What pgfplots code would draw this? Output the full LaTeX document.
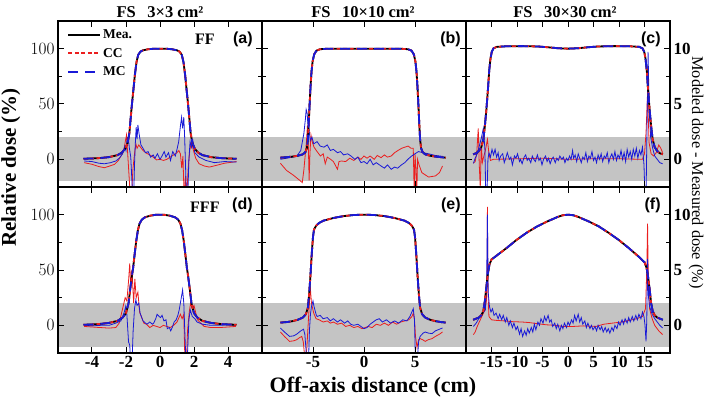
\documentclass[border=0pt]{standalone}
\usepackage{fontspec}
\setmainfont{Liberation Serif}
\setsansfont{Liberation Sans}
\usepackage{pgfplots}
\usepackage{pgfplotstable}
\pgfplotsset{compat=1.18}
\usepgfplotslibrary{groupplots}
\usetikzlibrary{calc}

\definecolor{bandgray}{RGB}{196,196,196}
\definecolor{cc}{RGB}{235,30,30}
\definecolor{mc}{RGB}{25,25,215}

\tikzset{
  plab/.style={font=\fontsize{16}{16}\selectfont\sffamily\bfseries, inner sep=0pt, anchor=north east},
  flab/.style={font=\fontsize{16}{16}\selectfont\bfseries, inner sep=0pt},
}
\pgfplotsset{
  panel/.style={
    width=204pt, height=166pt, scale only axis,
    ymin=-25, ymax=125, ytick={0,50,100}, minor ytick={25,75},
    xtick pos=both, ytick pos=both,
    tick align=inside, major tick length=6pt, minor tick length=4pt,
    every tick/.style={black, line width=1pt},
    axis line style={line width=1.3pt},
    axis on top,
    tick label style={font=\fontsize{17}{17}\selectfont\bfseries},
  },
  mea/.style={black, line width=1.8pt, no markers},
  ccp/.style={cc, line width=1.8pt, dash pattern=on 4pt off 2.5pt, no markers},
  mcp/.style={mc, line width=1.8pt, dash pattern=on 10pt off 7pt, no markers},
  ccd/.style={cc, line width=0.8pt, no markers, forget plot, y filter/.code={\pgfmathparse{10*##1}}},
  mcd/.style={mc, line width=0.8pt, no markers, forget plot, y filter/.code={\pgfmathparse{10*##1}}},
}

% profiles (relative dose, %)
\pgfplotstableread{
x y
-4.5 0.5
-4.0 0.8
-3.5 1.2
-3.0 2.0
-2.5 3.8
-2.25 6
-2.05 9.5
-1.9 15
-1.8 24
-1.72 38
-1.65 50
-1.57 62
-1.48 76
-1.38 88
-1.28 94.5
-1.15 97.3
-1.0 98.5
-0.7 99.5
-0.3 100
0 100
0.3 100
0.7 99.5
1.0 98.5
1.15 97.3
1.28 94.5
1.38 88
1.48 76
1.57 62
1.65 50
1.72 38
1.8 24
1.9 15
2.05 9.5
2.25 6
2.5 3.8
3.0 2.0
3.5 1.2
4.0 0.8
4.5 0.5
}\profA

\pgfplotstableread{
x y
-8.2 1.5
-7.5 2.0
-7.0 2.5
-6.5 3.2
-6.0 4.5
-5.75 6.5
-5.6 10
-5.5 18
-5.42 32
-5.33 50
-5.24 66
-5.14 80
-5.03 89
-4.88 95
-4.65 98.3
-4.3 99.5
-3.5 100
0 100
3.5 100
4.3 99.5
4.65 98.3
4.88 95
5.03 89
5.14 80
5.24 66
5.33 50
5.42 32
5.5 18
5.6 10
5.75 6.5
6.0 4.5
6.5 3.2
7.0 2.5
7.5 2.0
8.0 1.5
}\profB

\pgfplotstableread{
x y
-18.6 4.5
-18.0 5.5
-17.5 7.5
-17.0 11
-16.6 18
-16.3 30
-16.0 45
-15.7 63
-15.45 80
-15.2 91
-14.95 97
-14.6 100.3
-14.0 101.6
-12.0 102.2
-9.0 102.3
-6.0 102.0
-4.0 101.3
-2.0 100.4
0 100.0
2.0 100.4
4.0 101.3
6.0 102.0
9.0 102.3
12.0 102.2
14.0 101.6
14.6 100.3
14.95 97
15.2 91
15.45 80
15.7 63
16.0 45
16.3 30
16.6 18
17.0 11
17.5 7.5
18.0 5.5
18.6 4.5
}\profC

\pgfplotstableread{
x y
-4.5 0.5
-4.0 0.8
-3.5 1.3
-3.0 2.2
-2.5 4
-2.2 7
-2.0 11
-1.85 20
-1.75 33
-1.65 45
-1.58 52
-1.5 63
-1.4 76
-1.3 86
-1.2 92
-1.07 95.5
-0.9 97.5
-0.6 99
-0.3 99.8
0 100
0.3 99.8
0.6 99
0.9 97.5
1.07 95.5
1.2 92
1.3 86
1.4 76
1.5 63
1.58 52
1.65 45
1.75 33
1.85 20
2.0 11
2.2 7
2.5 4
3.0 2.2
3.5 1.3
4.0 0.8
4.5 0.5
}\profD

\pgfplotstableread{
x y
-8.2 2.5
-7.5 3.0
-7.0 3.8
-6.5 5.0
-6.0 7.0
-5.7 10
-5.5 16
-5.38 28
-5.25 45
-5.12 65
-5.0 80
-4.9 86.5
-4.7 90
-4.4 92.5
-4.0 94.5
-3.0 97
-2.0 98.7
-1.0 99.7
0 100
1.0 99.7
2.0 98.7
3.0 97
4.0 94.5
4.4 92.5
4.7 90
4.9 86.5
5.0 80
5.12 65
5.25 45
5.38 28
5.5 16
5.7 10
6.0 7.0
6.5 5.0
7.0 3.8
7.5 3.0
8.0 2.5
}\profE

\pgfplotstableread{
x y
-18.6 5
-17.5 7
-17.0 9
-16.6 13
-16.3 22
-16.0 35
-15.7 47
-15.4 55
-15.0 59.5
-14.0 63
-12.0 70
-10.0 77.5
-8.0 84
-6.0 89.5
-4.0 94
-2.0 98
-1.0 99.5
0 100
1.0 99.5
2.0 98
4.0 94
6.0 89.5
8.0 83.5
10.0 77
12.0 69.5
14.0 61.5
15.0 57
15.4 52
15.7 44
16.0 33
16.3 20
16.6 13
17.0 9
17.5 7
18.6 5
}\profF

\begin{document}
\begin{tikzpicture}
\begin{groupplot}[group style={group size=3 by 2, horizontal sep=0pt, vertical sep=0pt}, panel]

% ---- (a) FF 3x3
\nextgroupplot[xmin=-6, xmax=6, xtick={-4,-2,0,2,4}, xticklabels={},
  legend style={at={(0.045,0.96)}, anchor=north west, draw=none, fill=none,
    font=\fontsize{13.5}{13.5}\selectfont\bfseries, row sep=4pt, inner sep=0pt, cells={anchor=west}},
  legend image code/.code={\draw[#1] (0pt,0pt) -- (32pt,0pt);}]
\coordinate (tl) at (rel axis cs:0,1);
\fill[bandgray] (axis cs:-30,-20) rectangle (axis cs:30,20);
\addplot[ccd] coordinates {(-4.46,-0.3) (-4.0,-0.45) (-3.6,-0.65) (-3.27,-0.76) (-2.95,-0.6) (-2.67,-0.45) (-2.45,-0.1) (-2.27,0.36) (-2.12,0.9) (-2.02,1.8) (-1.97,2.2) (-1.9,0.5) (-1.82,-1.5) (-1.74,-3.5) (-1.67,-3.5) (-1.6,-1.0) (-1.5,0.5) (-1.42,1.4) (-1.35,1.0) (-1.25,1.3) (-1.15,1.1) (-1.0,0.8) (-0.8,0.55) (-0.6,0.4) (-0.4,0.2) (-0.2,-0.05) (0,0.0) (0.2,-0.1) (0.4,0.0) (0.6,0.2) (0.8,0.4) (1.0,0.6) (1.11,0.8) (1.2,0.5) (1.28,-0.8) (1.35,0.3) (1.42,-3.5) (1.5,-1.5) (1.57,-3.5) (1.65,-1.0) (1.75,0.8) (1.85,1.6) (1.95,0.9) (2.1,0.1) (2.3,-0.4) (2.6,-0.6) (2.9,-0.7) (3.3,-0.55) (3.8,-0.35) (4.5,-0.2)};
\addplot[mcd] coordinates {(-4.46,-0.15) (-4.0,-0.2) (-3.6,-0.35) (-3.27,-0.4) (-2.9,-0.3) (-2.6,-0.15) (-2.4,0.1) (-2.2,0.5) (-2.07,1.2) (-2.0,0.8) (-1.93,1.9) (-1.87,2.0) (-1.8,1.0) (-1.72,0.2) (-1.65,-2.0) (-1.6,-3.5) (-1.55,-3.5) (-1.5,-0.5) (-1.45,1.5) (-1.4,2.9) (-1.35,1.8) (-1.3,3.1) (-1.22,2.2) (-1.12,1.3) (-1.0,1.0) (-0.85,0.6) (-0.7,0.7) (-0.55,0.2) (-0.4,0.4) (-0.3,0.1) (-0.15,0.5) (0,0.0) (0.12,0.3) (0.25,0.7) (0.35,0.2) (0.5,0.6) (0.62,-0.1) (0.75,0.7) (0.9,0.3) (1.0,0.9) (1.1,1.6) (1.2,3.0) (1.27,3.8) (1.33,2.8) (1.4,3.8) (1.45,2.0) (1.52,-1.5) (1.57,-3.5) (1.63,-3.5) (1.7,0.0) (1.77,1.6) (1.85,1.1) (1.93,1.7) (2.05,0.6) (2.3,0.2) (2.7,-0.1) (3.2,-0.3) (3.8,-0.2) (4.5,-0.25)};
\addplot[mea] table {\profA}; \addlegendentry{Mea.}
\addplot[ccp] table {\profA}; \addlegendentry{CC}
\addplot[mcp] table {\profA}; \addlegendentry{MC}
\node[flab] at (rel axis cs:0.72,0.889) {FF};
\node[plab] at (rel axis cs:0.955,0.935) {(a)};

% ---- (b) FF 10x10
\nextgroupplot[xmin=-10, xmax=10, xtick={-5,0,5}, xticklabels={}, yticklabels={}]
\fill[bandgray] (axis cs:-30,-20) rectangle (axis cs:30,20);
\addplot[ccd] coordinates {(-8.2,-0.35) (-7.6,-1.0) (-6.9,-1.45) (-6.3,-1.9) (-6.05,-2.1) (-5.9,-1.0) (-5.77,0.3) (-5.65,1.5) (-5.55,3.0) (-5.45,1.0) (-5.38,-1.9) (-5.3,0.5) (-5.2,2.2) (-5.05,1.5) (-4.9,1.1) (-4.6,0.7) (-4.27,0.3) (-4.0,0.5) (-3.8,-0.4) (-3.6,0.2) (-3.27,0.0) (-3.0,-0.2) (-2.6,-0.9) (-2.45,-0.2) (-2.2,-0.15) (-1.8,-0.2) (-1.4,0.1) (-1.0,-0.1) (-0.6,0.2) (-0.3,0.0) (0,0.3) (0.3,0.1) (0.6,0.3) (1.0,0.0) (1.3,0.35) (1.67,0.15) (2.0,0.4) (2.3,0.2) (2.67,0.3) (3.0,0.6) (3.33,0.8) (3.7,1.0) (4.0,1.1) (4.33,1.2) (4.6,1.0) (4.83,1.0) (4.93,-3.5) (5.0,0.5) (5.1,-1.0) (5.17,-3.5) (5.25,0.0) (5.4,-0.5) (5.67,-1.2) (6.0,-1.4) (6.33,-1.6) (7.0,-1.5) (7.4,-1.2) (7.7,-0.6)};
\addplot[mcd] coordinates {(-8.2,0.0) (-7.6,0.1) (-7.0,0.2) (-6.6,0.27) (-6.2,0.8) (-5.9,2.3) (-5.75,3.6) (-5.67,4.5) (-5.58,4.2) (-5.5,3.2) (-5.4,2.8) (-5.27,1.7) (-5.1,2.0) (-4.93,1.4) (-4.6,1.6) (-4.3,1.2) (-3.93,1.1) (-3.6,1.3) (-3.3,0.8) (-3.0,0.9) (-2.6,0.6) (-2.3,0.7) (-2.0,0.4) (-1.6,0.5) (-1.27,0.3) (-0.9,0.0) (-0.6,0.2) (-0.3,-0.3) (0,-0.2) (0.3,-0.4) (0.6,0.0) (0.9,-0.5) (1.2,-0.3) (1.67,-0.6) (2.0,-0.8) (2.3,-0.5) (2.67,-0.9) (3.0,-0.7) (3.3,-0.8) (3.67,-0.5) (4.0,-0.3) (4.3,0.0) (4.67,0.3) (5.0,0.5) (5.33,0.7) (5.8,0.6) (6.33,0.5) (7.0,0.35) (7.7,0.27)};
\addplot[mea] table {\profB};
\addplot[ccp] table {\profB};
\addplot[mcp] table {\profB};
\node[plab] at (rel axis cs:0.975,0.935) {(b)};

% ---- (c) FF 30x30
\nextgroupplot[xmin=-20, xmax=20, xtick={-15,-10,-5,0,5,10,15}, xticklabels={},
  yticklabel pos=right, yticklabels={0,5,10}]
\fill[bandgray] (axis cs:-30,-20) rectangle (axis cs:30,20);
\addplot[ccd] coordinates {(-18.55,-0.35) (-18.2,-0.2) (-17.9,0.5) (-17.6,2.8) (-17.4,-0.5) (-17.2,-2.6) (-17.0,1.5) (-16.8,-0.3) (-16.5,0.3) (-16.2,0.8) (-15.8,1.8) (-15.5,0.5) (-15.2,-0.1) (-14.65,0.0) (-10,0.05) (-5,0.1) (0,0.0) (5,0.05) (10,0.05) (14.6,0.0) (15.0,0.5) (15.3,2.4) (15.6,6.0) (15.9,1.5) (16.3,0.5) (16.8,0.3) (17.3,0.6) (17.8,1.3) (18.2,1.0) (18.55,0.6)};
\addplot[mcd] coordinates {(-18.55,-0.36) (-18.2,0.1) (-17.8,0.5) (-17.4,1.2) (-17.0,1.9) (-16.6,2.8) (-16.3,1.0) (-16.1,-3.5) (-15.9,-3.5) (-15.7,0.0) (-15.5,0.6) (-15.2,0.2) (-14.9,0.9) (-14.6,0.4) (-14.3,0.9) (-14.0,0.2) (-13.7,0.6) (-13.5,-0.1) (-13.2,0.3) (-12.8,0.5) (-12.5,-0.3) (-12.2,0.1) (-11.9,0.6) (-11.5,0.0) (-11.2,0.2) (-10.9,-0.5) (-10.5,0.3) (-10.2,0.1) (-9.9,0.5) (-9.5,-0.2) (-9.3,0.0) (-9.0,-0.4) (-8.6,0.2) (-8.3,0.4) (-8.0,-0.1) (-7.7,0.1) (-7.3,-0.3) (-7.0,0.3) (-6.7,0.0) (-6.4,-0.2) (-6.0,0.4) (-5.7,-0.1) (-5.4,0.1) (-5.1,-0.5) (-4.8,0.0) (-4.4,0.3) (-4.1,-0.2) (-3.8,0.1) (-3.5,-0.4) (-3.2,0.0) (-2.9,0.2) (-2.5,-0.3) (-2.2,0.1) (-1.9,-0.1) (-1.6,0.3) (-1.2,0.0) (-0.9,0.2) (-0.6,-0.3) (-0.3,0.1) (0.0,-0.1) (0.3,0.3) (0.6,0.0) (0.9,0.8) (1.1,0.1) (1.4,0.4) (1.7,-0.2) (2.0,0.5) (2.3,0.1) (2.6,-0.3) (2.9,0.2) (3.2,0.0) (3.5,0.6) (3.8,-0.2) (4.1,0.3) (4.4,0.1) (4.7,0.7) (5.0,-0.1) (5.3,0.2) (5.6,-0.3) (5.9,0.4) (6.2,0.0) (6.5,0.5) (6.8,-0.2) (7.1,0.3) (7.4,0.1) (7.7,0.6) (8.0,-0.3) (8.3,0.2) (8.6,0.5) (8.9,0.0) (9.2,0.7) (9.5,-0.1) (9.8,0.4) (10.1,0.1) (10.4,0.8) (10.7,0.0) (11.0,0.6) (11.3,-0.2) (11.6,0.9) (11.9,0.2) (12.2,0.7) (12.5,0.0) (12.8,0.9) (13.1,0.3) (13.4,1.0) (13.7,0.1) (14.0,0.8) (14.3,0.4) (14.6,1.1) (14.9,-0.5) (15.1,-3.5) (15.3,-3.5) (15.5,3.0) (15.7,9.7) (15.9,5.0) (16.2,2.0) (16.6,1.0) (17.0,0.3) (17.5,0.0) (18.0,-0.3) (18.55,-0.4)};
\addplot[mea] table {\profC};
\addplot[ccp] table {\profC};
\addplot[mcp] table {\profC};
\node[plab] at (rel axis cs:0.955,0.935) {(c)};

% ---- (d) FFF 3x3
\nextgroupplot[xmin=-6, xmax=6, xtick={-4,-2,0,2,4}, xticklabels={-4,-2,0,2,4}]
\fill[bandgray] (axis cs:-30,-20) rectangle (axis cs:30,20);
\addplot[ccd] coordinates {(-4.46,-0.1) (-4.0,-0.15) (-3.5,-0.2) (-3.0,-0.25) (-2.6,-0.2) (-2.4,0.2) (-2.2,1.5) (-2.05,2.5) (-1.95,2.2) (-1.85,4.0) (-1.78,5.6) (-1.72,3.5) (-1.65,5.0) (-1.55,2.0) (-1.48,4.2) (-1.4,2.5) (-1.3,3.0) (-1.2,1.2) (-1.05,0.6) (-0.95,0.2) (-0.8,0.1) (-0.6,-0.2) (-0.4,0.0) (-0.2,-0.1) (0,-0.2) (0.2,0.0) (0.4,-0.1) (0.6,-0.2) (0.8,0.0) (1.0,0.3) (1.2,1.0) (1.3,0.6) (1.4,1.0) (1.47,-3.5) (1.55,-3.5) (1.62,-0.5) (1.72,1.2) (1.8,2.0) (1.9,1.5) (2.0,1.8) (2.2,0.5) (2.4,0.2) (2.6,-0.1) (3.0,-0.2) (3.5,-0.2) (4.0,-0.15) (4.46,-0.1)};
\addplot[mcd] coordinates {(-4.46,0.0) (-4.0,-0.05) (-3.5,0.0) (-3.0,0.0) (-2.6,0.2) (-2.3,0.4) (-2.1,1.2) (-2.02,1.7) (-1.95,1.0) (-1.85,-1.5) (-1.78,-1.8) (-1.72,-3.5) (-1.65,-3.5) (-1.58,-0.5) (-1.5,1.5) (-1.42,2.3) (-1.35,1.8) (-1.25,2.0) (-1.17,1.1) (-1.0,0.4) (-0.85,0.2) (-0.77,0.1) (-0.6,0.3) (-0.45,0.1) (-0.37,0.2) (-0.25,0.6) (-0.17,1.0) (-0.05,0.8) (0.03,0.7) (0.12,0.9) (0.23,0.4) (0.35,0.5) (0.43,-0.3) (0.55,-0.2) (0.63,-0.5) (0.72,-0.2) (0.83,0.3) (0.95,0.5) (1.05,0.9) (1.13,1.4) (1.22,2.2) (1.33,3.2) (1.4,2.0) (1.47,-1.0) (1.53,-3.5) (1.62,-2.5) (1.7,0.5) (1.78,1.4) (1.9,0.8) (2.05,0.6) (2.18,0.3) (2.5,0.1) (3.0,0.0) (3.5,0.0) (4.0,0.05) (4.46,0.0)};
\addplot[mea] table {\profD};
\addplot[ccp] table {\profD};
\addplot[mcp] table {\profD};
\node[flab] at (rel axis cs:0.72,0.877) {FFF};
\node[plab] at (rel axis cs:0.955,0.935) {(d)};

% ---- (e) FFF 10x10
\nextgroupplot[xmin=-10, xmax=10, xtick={-5,0,5}, xticklabels={-5,0,5}, yticklabels={}]
\fill[bandgray] (axis cs:-30,-20) rectangle (axis cs:30,20);
\addplot[ccd] coordinates {(-8.2,-0.6) (-7.8,-1.0) (-7.3,-1.45) (-6.9,-1.4) (-6.6,-1.3) (-6.3,-1.1) (-6.1,-1.0) (-5.95,-1.5) (-5.85,-2.5) (-5.77,-3.5) (-5.6,-2.0) (-5.45,0.5) (-5.35,2.0) (-5.27,3.5) (-5.15,2.0) (-4.93,1.1) (-4.7,0.6) (-4.4,0.5) (-4.0,0.3) (-3.6,0.4) (-3.3,0.2) (-3.0,0.3) (-2.6,0.1) (-2.2,0.2) (-1.8,-0.1) (-1.4,0.0) (-1.0,-0.2) (-0.6,-0.1) (-0.2,-0.3) (0,-0.24) (0.4,-0.1) (0.8,-0.2) (1.2,0.1) (1.6,0.0) (2.0,0.2) (2.4,0.0) (2.8,0.3) (3.2,0.1) (3.6,0.3) (4.0,0.4) (4.4,0.5) (4.7,0.8) (4.83,1.1) (4.95,0.5) (5.05,-1.0) (5.2,-2.0) (5.35,-1.3) (5.5,-1.2) (5.75,-1.3) (6.0,-1.45) (6.3,-1.3) (6.67,-1.2) (7.0,-1.0) (7.4,-0.8) (7.7,-0.6)};
\addplot[mcd] coordinates {(-8.2,-0.24) (-7.8,-0.6) (-7.3,-1.0) (-6.9,-0.95) (-6.6,-0.8) (-6.2,-0.5) (-5.93,-0.35) (-5.8,-0.8) (-5.7,-2.0) (-5.6,-3.5) (-5.45,-3.5) (-5.35,-0.5) (-5.25,1.0) (-5.15,1.7) (-5.0,2.2) (-4.9,1.7) (-4.7,1.0) (-4.6,0.8) (-4.3,0.9) (-4.0,0.6) (-3.6,0.7) (-3.3,0.4) (-3.0,0.6) (-2.6,0.3) (-2.3,0.5) (-1.9,0.2) (-1.6,0.4) (-1.3,0.1) (-1.0,0.0) (-0.6,0.1) (-0.3,-0.1) (0,-0.3) (0.3,-0.2) (0.6,0.1) (0.9,0.3) (1.2,0.5) (1.5,0.6) (1.8,0.3) (2.2,0.5) (2.6,0.2) (3.0,0.4) (3.4,0.2) (3.8,0.5) (4.2,0.4) (4.5,0.8) (4.83,1.5) (4.95,0.5) (5.05,-3.5) (5.2,-3.5) (5.35,-1.5) (5.5,-1.0) (5.8,-0.7) (6.0,-0.6) (6.3,-0.7) (6.67,-0.75) (7.0,-0.5) (7.4,-0.35) (7.7,-0.24)};
\addplot[mea] table {\profE};
\addplot[ccp] table {\profE};
\addplot[mcp] table {\profE};
\node[plab] at (rel axis cs:0.975,0.935) {(e)};

% ---- (f) FFF 30x30
\nextgroupplot[xmin=-20, xmax=20, xtick={-15,-10,-5,0,5,10,15}, xticklabels={-15,-10,-5,0,5,10,15},
  yticklabel pos=right, yticklabels={0,5,10}]
\fill[bandgray] (axis cs:-30,-20) rectangle (axis cs:30,20);
\addplot[ccd] coordinates {(-18.55,-0.84) (-18.2,-0.6) (-17.8,-0.1) (-17.3,0.4) (-16.8,0.9) (-16.3,1.4) (-16.0,2.2) (-15.85,5.0) (-15.8,10.7) (-15.7,3.0) (-15.5,0.8) (-15.0,0.5) (-14.1,0.45) (-12.5,0.4) (-10.8,0.33) (-9,0.3) (-7.6,0.25) (-6,0.15) (-4.3,0.05) (-2.5,0.0) (-1,-0.1) (1,-0.1) (3,-0.05) (5.5,-0.1) (7,0.1) (8.7,0.2) (10.5,0.3) (12,0.45) (13.5,0.6) (14.6,0.8) (15.2,1.5) (15.45,5.0) (15.6,9.2) (15.75,4.0) (16.0,1.5) (16.5,0.6) (17.0,0.0) (17.8,-0.5) (18.55,-0.84)};
\addplot[mcd] coordinates {(-18.55,-0.1) (-18.0,0.2) (-17.5,0.6) (-17.0,1.0) (-16.5,1.2) (-16.2,1.4) (-15.95,4.0) (-15.8,10.0) (-15.65,3.0) (-15.4,1.7) (-15.1,1.2) (-14.8,1.5) (-14.5,0.9) (-14.1,1.1) (-13.7,0.6) (-13.4,1.0) (-13.0,0.5) (-12.7,0.9) (-12.3,0.3) (-12.0,0.7) (-11.6,0.0) (-11.3,0.4) (-10.9,-0.2) (-10.6,0.2) (-10.2,-0.4) (-9.9,-0.1) (-9.5,-0.8) (-9.2,-0.3) (-8.9,-1.0) (-8.5,-0.5) (-8.2,-0.9) (-7.9,-0.3) (-7.6,-0.7) (-7.2,-0.2) (-6.9,-0.6) (-6.6,0.1) (-6.3,-0.4) (-5.9,0.3) (-5.6,0.0) (-5.3,0.6) (-4.9,0.2) (-4.6,0.8) (-4.3,0.4) (-3.9,0.9) (-3.6,0.3) (-3.3,0.5) (-3.0,-0.1) (-2.6,0.2) (-2.3,-0.3) (-2.0,0.1) (-1.6,-0.5) (-1.3,0.0) (-1.0,-0.3) (-0.7,0.2) (-0.3,-0.2) (0.0,0.3) (0.3,0.0) (0.7,0.5) (1.0,0.2) (1.3,0.9) (1.6,0.4) (2.0,1.0) (2.3,0.3) (2.6,0.7) (2.9,0.1) (3.3,0.4) (3.6,-0.2) (3.9,0.2) (4.3,-0.3) (4.6,0.0) (4.9,-0.4) (5.3,-0.1) (5.6,-0.5) (5.9,0.0) (6.3,-0.4) (6.6,-0.1) (6.9,-0.6) (7.3,-0.2) (7.6,-0.6) (7.9,-0.3) (8.2,-0.7) (8.6,-0.2) (8.9,-0.5) (9.2,0.0) (9.6,-0.3) (9.9,0.3) (10.2,0.0) (10.6,0.5) (10.9,0.1) (11.2,0.6) (11.6,0.2) (11.9,0.7) (12.2,0.3) (12.6,0.8) (12.9,0.4) (13.3,0.9) (13.6,0.5) (13.9,1.0) (14.3,0.6) (14.6,1.2) (14.9,0.8) (15.1,0.0) (15.3,-1.45) (15.45,0.5) (15.6,6.0) (15.8,2.5) (16.0,1.7) (16.5,1.0) (17.0,0.6) (17.5,0.3) (18.0,0.0) (18.55,-0.24)};
\addplot[mea] table {\profF};
\addplot[ccp] table {\profF};
\addplot[mcp] table {\profF};
\node[plab] at (rel axis cs:0.955,0.935) {(f)};
\end{groupplot}

% titles and axis labels
\node[font=\fontsize{16.5}{16.5}\selectfont\bfseries] at ($(tl)+(102pt,9pt)$) {FS\hspace{0.7em}3×3 cm²};
\node[font=\fontsize{16.5}{16.5}\selectfont\bfseries] at ($(tl)+(305pt,9pt)$) {FS\hspace{0.7em}10×10 cm²};
\node[font=\fontsize{16.5}{16.5}\selectfont\bfseries] at ($(tl)+(507pt,9pt)$) {FS\hspace{0.7em}30×30 cm²};
\node[rotate=90, anchor=base, inner sep=0pt, font=\fontsize{21}{21}\selectfont\bfseries] at ($(tl)+(-42pt,-146.5pt)$) {Relative dose (\%)};
\node[rotate=-90, anchor=base, inner sep=0pt, font=\fontsize{16.3}{16.3}\selectfont] at ($(tl)+(634pt,-151.5pt)$) {Modeled dose - Measured dose (\%)};
\node[font=\fontsize{22}{22}\selectfont\bfseries] at ($(tl)+(315pt,-366pt)$) {Off-axis distance (cm)};

\pgfresetboundingbox
\path[use as bounding box] ($(tl)+(-58pt,21pt)$) rectangle ($(tl)+(651pt,-381pt)$);
\end{tikzpicture}
\end{document}
